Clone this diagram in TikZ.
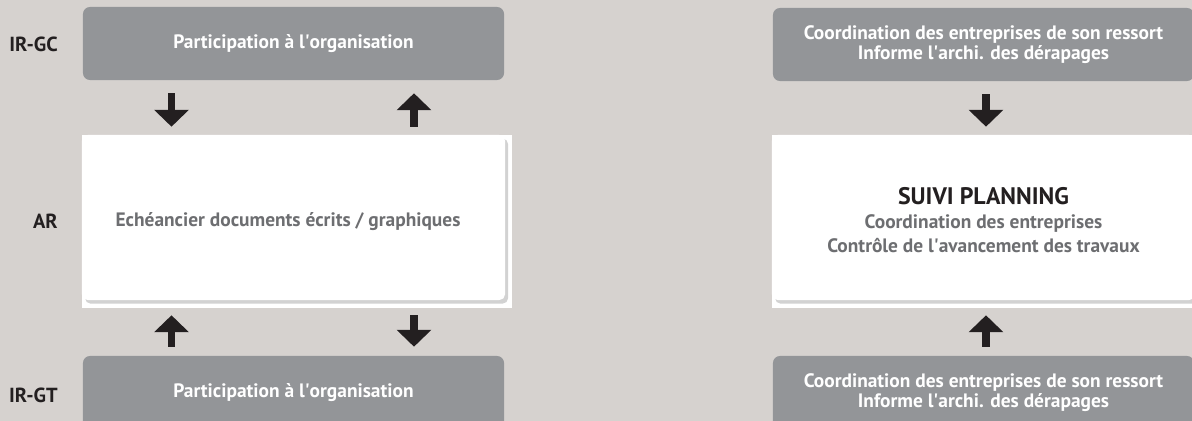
\documentclass[tikz,border=0pt]{standalone}
\usepackage{fontspec}
\setmainfont{PT Sans}
\usepackage{xcolor}
\usepackage{tikz}
\usetikzlibrary{arrows.meta, positioning, calc, shadows}
\definecolor{bgcol}{RGB}{214,210,207}
\definecolor{boxgray}{RGB}{147,149,152}
\definecolor{txtgray}{RGB}{109,110,113}
\definecolor{inkblack}{RGB}{35,31,32}
\newcommand{\apos}{\textquotesingle}
\tikzset{
        graybox/.style={rectangle, fill=boxgray, rounded corners=5pt, minimum width=10.525cm, minimum height=1.825cm, inner sep=0pt, text=white, align=center, font=\fontsize{13.8}{14.2}\selectfont\bfseries},
        notebox/.style={rectangle, fill=white, rounded corners=4pt, minimum width=10.575cm, minimum height=4.125cm, inner sep=0pt, drop shadow={shadow xshift=2.2pt, shadow yshift=-2.6pt, fill=black!22, opacity=0.8}},
        notetext/.style={text=txtgray, align=center, inner sep=0pt, font=\fontsize{13.8}{17}\selectfont\bfseries},
        rowlabel/.style={text=inkblack, anchor=east, inner sep=0pt, font=\fontsize{14.5}{14}\selectfont\bfseries},
        fatarrow/.style={draw=inkblack, line width=5pt, -{Triangle[width=24pt, length=12pt]}},
    }

\begin{document}
\begin{tikzpicture}[x=0.025cm, y=-0.025cm]
        \useasboundingbox (0,0) rectangle (1192,421);
        \fill[bgcol] (0,0) rectangle (1192,421);

        % left column
        \node[graybox] (irgc) at (293.5,43.5) {Participation à l\apos organisation};
        \fill[white] (82,135) rectangle (512,308);
        \node[notebox] (ar) at (293.5,217.5) {};
        \node[notetext] (artext) at (288,221.5) {Echéancier documents écrits / graphiques};
        \node[graybox] (irgt) at (293.5,392.5) {Participation à l\apos organisation};

        \node[rowlabel] (lgc) at (58,44) {IR-GC};
        \node[rowlabel] (lar) at (58,221.5) {AR};
        \node[rowlabel] (lgt) at (58,395) {IR-GT};

        \draw[fatarrow] ($(irgc.south)+(-122,13)$) -- ($(ar.north)+(-122,-8)$);
        \draw[fatarrow] ($(ar.north)+(120.5,-8)$) -- ($(irgc.south)+(120.5,13)$);
        \draw[fatarrow] ($(irgt.north)+(-122,-9)$) -- ($(ar.south)+(-122,15)$);
        \draw[fatarrow] ($(ar.south)+(120.5,15)$) -- ($(irgt.north)+(120.5,-9)$);

        % right column
        \node[graybox] (rgc) at (983.5,44.5) {Coordination des entreprises de son ressort\\Informe l\apos archi. des dérapages};
        \fill[white] (772,135) rectangle (1192,308);
        \node[notebox] (suivi) at (983.5,217.5) {};
        \node[notetext] (suivitext) at (983.5,220) {{\fontsize{17}{17}\selectfont\color{inkblack}SUIVI PLANNING}\\Coordination des entreprises\\Contrôle de l\apos avancement des travaux};
        \node[graybox] (rgt) at (983.5,392.5) {Coordination des entreprises de son ressort\\Informe l\apos archi. des dérapages};

        \draw[fatarrow] ($(rgc.south)+(2.5,13)$) -- ($(suivi.north)+(2.5,-8)$);
        \draw[fatarrow] ($(rgt.north)+(2.5,-9)$) -- ($(suivi.south)+(2.5,15)$);
    \end{tikzpicture}
\end{document}
